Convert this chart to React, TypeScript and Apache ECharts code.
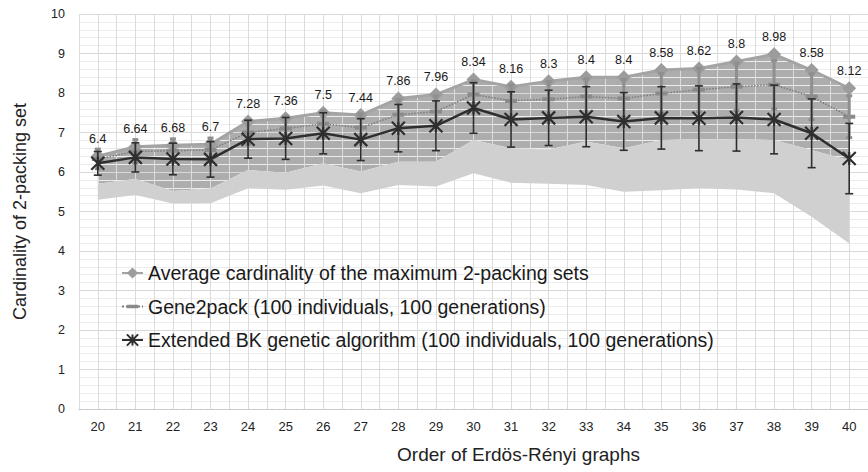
import React, { useEffect, useRef } from "react";
import * as echarts from "echarts";

const categories = ["20", "21", "22", "23", "24", "25", "26", "27", "28", "29", "30", "31", "32", "33", "34", "35", "36", "37", "38", "39", "40"];
const averageValues = [6.4, 6.64, 6.68, 6.7, 7.28, 7.36, 7.5, 7.44, 7.86, 7.96, 8.34, 8.16, 8.3, 8.4, 8.4, 8.58, 8.62, 8.8, 8.98, 8.58, 8.12];
const gene2packMean = [6.33, 6.52, 6.54, 6.56, 7.0, 7.1, 7.22, 7.12, 7.45, 7.53, 7.96, 7.8, 7.84, 7.91, 7.86, 7.99, 8.08, 8.16, 8.21, 7.91, 7.4];
const gene2packSd = [0.25, 0.3, 0.3, 0.3, 0.3, 0.32, 0.33, 0.35, 0.38, 0.4, 0.35, 0.4, 0.45, 0.45, 0.48, 0.5, 0.55, 0.6, 0.61, 0.58, 0.53];
const bkMean = [6.22, 6.37, 6.33, 6.32, 6.83, 6.85, 6.98, 6.82, 7.11, 7.17, 7.62, 7.33, 7.37, 7.4, 7.28, 7.37, 7.36, 7.38, 7.33, 6.98, 6.34];
const bkSd = [0.3, 0.37, 0.4, 0.45, 0.48, 0.53, 0.52, 0.53, 0.6, 0.63, 0.64, 0.7, 0.7, 0.76, 0.73, 0.79, 0.82, 0.85, 0.87, 0.87, 0.89];
const upperBandBottom = [5.7, 5.82, 5.52, 5.58, 6.05, 5.98, 6.22, 6.01, 6.26, 6.26, 6.81, 6.6, 6.57, 6.77, 6.6, 6.81, 6.83, 6.83, 6.81, 6.56, 6.29];
const lowerBandBottom = [5.3, 5.42, 5.2, 5.21, 5.59, 5.55, 5.66, 5.46, 5.67, 5.63, 5.97, 5.73, 5.7, 5.67, 5.5, 5.54, 5.59, 5.56, 5.46, 4.87, 4.19];

const NAME_AVG = "Average cardinality of the maximum 2-packing sets";
const NAME_G2P = "Gene2pack (100 individuals, 100 generations)";
const NAME_BK = "Extended BK genetic algorithm (100 individuals, 100 generations)";

const FONT = '"Liberation Sans", Arial, Helvetica, sans-serif';

function errorBar(color: string, lw: number, capHalf: number, capW: number) {
  return (params: any, api: any) => {
    const x = api.value(0);
    const lo = api.coord([x, api.value(1)]);
    const hi = api.coord([x, api.value(2)]);
    const style = { stroke: color, lineWidth: lw, fill: "none" };
    const capStyle = { stroke: color, lineWidth: capW, fill: "none" };
    return {
      type: "group",
      children: [
        { type: "line", shape: { x1: lo[0], y1: lo[1], x2: hi[0], y2: hi[1] }, style },
        { type: "line", shape: { x1: lo[0] - capHalf, y1: lo[1], x2: lo[0] + capHalf, y2: lo[1] }, style: capStyle },
        { type: "line", shape: { x1: hi[0] - capHalf, y1: hi[1], x2: hi[0] + capHalf, y2: hi[1] }, style: capStyle },
      ],
    };
  };
}

export default function App() {
  const ref = useRef<HTMLDivElement>(null);
  useEffect(() => {
    if (!ref.current) return;
    const chart = echarts.init(ref.current, undefined, { renderer: "svg" });
    const lightBand = upperBandBottom.map((v, i) => +(v - lowerBandBottom[i]).toFixed(3));
    const darkBand = averageValues.map((v, i) => +(v - upperBandBottom[i]).toFixed(3));
    const g2pBars = gene2packMean.map((m, i) => [i, m - gene2packSd[i], m + gene2packSd[i]]);
    const bkBars = bkMean.map((m, i) => [i, m - bkSd[i], m + bkSd[i]]);

    chart.setOption({
      animation: false,
      textStyle: { fontFamily: FONT },
      grid: { left: 79, right: -9, top: 14, bottom: 63 },
      legend: {
        data: [NAME_AVG, NAME_G2P, NAME_BK],
        orient: "vertical",
        left: 121,
        top: 262,
        padding: 0,
        itemGap: 11.5,
        itemWidth: 21,
        itemHeight: 14,
        textStyle: { fontSize: 19.5, color: "#1a1a1a", lineHeight: 22, fontFamily: FONT },
      },
      xAxis: [
        {
          type: "category",
          data: categories,
          boundaryGap: true,
          z: 2,
          axisLine: { show: true, lineStyle: { color: "#c8c8c8", type: "dashed", width: 1 } },
          axisTick: { show: false },
          axisLabel: { fontSize: 13, color: "#222", margin: 11 },
          splitLine: { show: false },
          name: "Order of Erdös-Rényi graphs",
          nameLocation: "middle",
          nameGap: 36,
          nameTextStyle: { fontSize: 19, color: "#222", padding: [0, 0, 0, 90] },
        },
        {
          type: "value",
          position: "top",
          min: -0.5,
          max: 20.5,
          interval: 0.5,
          z: 2,
          axisLine: { show: false },
          axisTick: { show: false },
          axisLabel: { show: false },
          splitLine: { show: true, lineStyle: { color: "#dcdcdc", width: 1 } },
        },
      ],
      yAxis: {
        type: "value",
        min: 0,
        max: 10,
        interval: 1,
        z: 2,
        axisLine: { show: false },
        axisTick: { show: false },
        axisLabel: { fontSize: 12.5, color: "#222", margin: 14 },
        splitLine: { show: true, lineStyle: { color: "#d9d9d9", width: 1 } },
        minorTick: { show: false, splitNumber: 5 },
        minorSplitLine: { show: true, lineStyle: { color: "#ececec", width: 1 } },
        name: "Cardinality of 2-packing set",
        nameLocation: "middle",
        nameGap: 50,
        nameTextStyle: { fontSize: 18, color: "#222" },
      },
      series: [
        {
          name: "bandBase",
          type: "line",
          stack: "band",
          data: lowerBandBottom,
          symbol: "none",
          lineStyle: { opacity: 0 },
          silent: true,
          z: 1,
        },
        {
          name: "lightBand",
          type: "line",
          stack: "band",
          data: lightBand,
          symbol: "none",
          lineStyle: { opacity: 0 },
          areaStyle: { color: "#d0d0d0", opacity: 1 },
          silent: true,
          z: 3,
        },
        {
          name: "darkBand",
          type: "line",
          stack: "band",
          data: darkBand,
          symbol: "none",
          lineStyle: { opacity: 0 },
          areaStyle: { color: "#adadad", opacity: 1 },
          silent: true,
          z: 1,
        },
        {
          name: NAME_AVG,
          type: "line",
          data: averageValues,
          symbol: "diamond",
          symbolSize: 14,
          z: 4,
          lineStyle: { color: "#a4a4a4", width: 3 },
          itemStyle: { color: "#9c9c9c" },
          label: { show: true, position: "top", distance: 4, fontSize: 12.5, color: "#1a1a1a" },
        },
        {
          name: NAME_G2P,
          type: "line",
          data: gene2packMean,
          symbol: "path://M0,4L12,4L12,8L0,8Z M0,0L0.01,0 M0,12L0.01,12",
          symbolSize: 12,
          z: 5,
          lineStyle: { color: "#7a7a7a", width: 1.5, type: "dotted" },
          itemStyle: { color: "#8a8a8a" },
        },
        {
          name: "g2pErr",
          type: "custom",
          data: g2pBars,
          renderItem: errorBar("#8f8f8f", 3, 3, 3),
          encode: { x: 0, y: [1, 2] },
          z: 6,
          silent: true,
        },
        {
          name: "bkErr",
          type: "custom",
          data: bkBars,
          renderItem: errorBar("#2e2e2e", 1.6, 4, 1.6),
          encode: { x: 0, y: [1, 2] },
          z: 7,
          silent: true,
        },
        {
          name: NAME_BK,
          type: "line",
          data: bkMean,
          symbol: "path://M0,0L10,10M10,0L0,10M5,0L5,10",
          symbolSize: 13,
          z: 8,
          lineStyle: { color: "#2e2e2e", width: 2.5 },
          itemStyle: { color: "#2e2e2e", borderColor: "#2e2e2e", borderWidth: 2.2 },
        },
      ],
    });
    return () => chart.dispose();
  }, []);

  return (
    <div style={{ position: "fixed", left: 0, top: 0, width: 868, height: 472, background: "#fff", overflow: "hidden" }}>
      <div ref={ref} style={{ width: 868, height: 472 }} />
    </div>
  );
}
